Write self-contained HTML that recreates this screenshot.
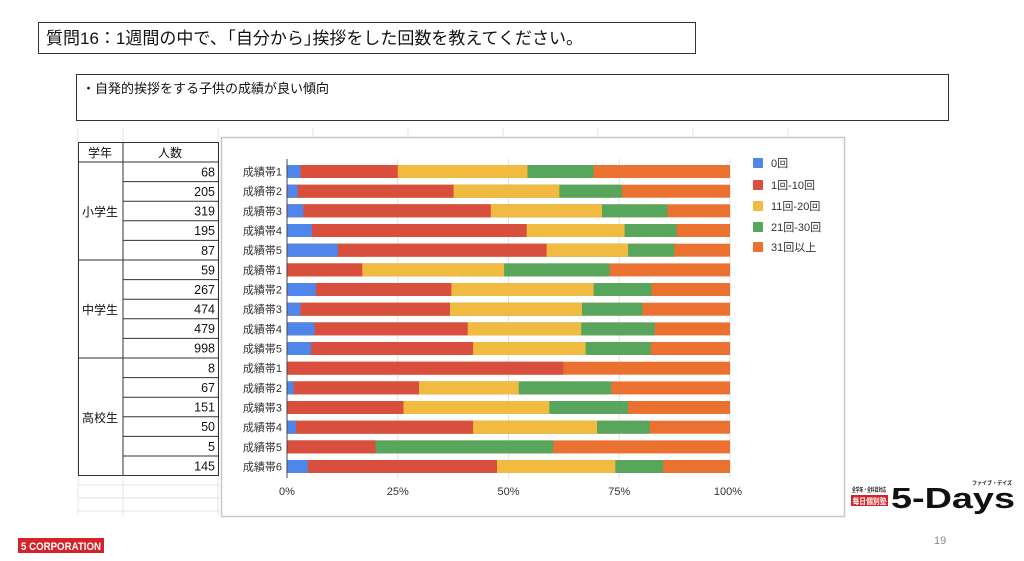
<!DOCTYPE html>
<html><head><meta charset="utf-8"><style>
html,body{margin:0;padding:0;background:#fff;}
svg{display:block;font-family:"Liberation Sans","Noto Sans CJK JP",sans-serif;}
</style></head><body>
<svg width="1024" height="561" viewBox="0 0 1024 561" xmlns="http://www.w3.org/2000/svg">
<rect width="1024" height="561" fill="#fff"/>
<rect x="38.5" y="22.5" width="657" height="31" fill="#fff" stroke="#333" stroke-width="1"/>
<text x="46" y="44" font-size="17" fill="#111">質問16：1週間の中で､「自分から｣挨拶をした回数を教えてください。</text>
<rect x="76.5" y="74.5" width="872" height="46" fill="#fff" stroke="#333" stroke-width="1"/>
<text x="82" y="93" font-size="13" fill="#111">・自発的挨拶をする子供の成績が良い傾向</text>
<g stroke="#e4e4e4" stroke-width="1">
<line x1="78" y1="128" x2="78" y2="515"/><line x1="123" y1="128" x2="123" y2="515"/><line x1="218" y1="128" x2="218" y2="515"/>
<line x1="78" y1="485" x2="220" y2="485"/><line x1="78" y1="498" x2="220" y2="498"/><line x1="78" y1="511" x2="220" y2="511"/>
<line x1="313" y1="128" x2="313" y2="137"/><line x1="408" y1="128" x2="408" y2="137"/><line x1="503" y1="128" x2="503" y2="137"/><line x1="598" y1="128" x2="598" y2="137"/><line x1="693" y1="128" x2="693" y2="137"/><line x1="788" y1="128" x2="788" y2="137"/>
</g>
<g stroke="#333" stroke-width="1" fill="none">
<rect x="78.5" y="142.5" width="140" height="333"/>
<line x1="123" y1="142" x2="123" y2="476"/>
<line x1="78" y1="162" x2="218" y2="162"/>
<line x1="78" y1="260" x2="218" y2="260"/>
<line x1="78" y1="358" x2="218" y2="358"/>
<line x1="123" y1="181.6" x2="218" y2="181.6"/><line x1="123" y1="201.2" x2="218" y2="201.2"/><line x1="123" y1="220.8" x2="218" y2="220.8"/><line x1="123" y1="240.4" x2="218" y2="240.4"/>
<line x1="123" y1="279.6" x2="218" y2="279.6"/><line x1="123" y1="299.2" x2="218" y2="299.2"/><line x1="123" y1="318.8" x2="218" y2="318.8"/><line x1="123" y1="338.4" x2="218" y2="338.4"/>
<line x1="123" y1="377.6" x2="218" y2="377.6"/><line x1="123" y1="397.2" x2="218" y2="397.2"/><line x1="123" y1="416.8" x2="218" y2="416.8"/><line x1="123" y1="436.4" x2="218" y2="436.4"/><line x1="123" y1="456" x2="218" y2="456"/>
</g>
<g font-size="12" fill="#111">
<text x="100" y="157" text-anchor="middle">学年</text>
<text x="170" y="157" text-anchor="middle">人数</text>
<text x="100" y="216" text-anchor="middle">小学生</text>
<text x="100" y="314" text-anchor="middle">中学生</text>
<text x="100" y="422" text-anchor="middle">高校生</text>
</g>
<g font-size="12.5" fill="#111" text-anchor="end">
<text x="215" y="176.5">68</text><text x="215" y="196">205</text><text x="215" y="215.5">319</text><text x="215" y="235">195</text><text x="215" y="255">87</text>
<text x="215" y="274.5">59</text><text x="215" y="294">267</text><text x="215" y="313.5">474</text><text x="215" y="333">479</text><text x="215" y="352.5">998</text>
<text x="215" y="372.5">8</text><text x="215" y="392">67</text><text x="215" y="411.5">151</text><text x="215" y="431">50</text><text x="215" y="451">5</text><text x="215" y="470.5">145</text>
</g>
<rect x="221.5" y="137.5" width="623" height="379" fill="#fff" stroke="#c8c8c8" stroke-width="1.5"/>
<g stroke="#e2e2e2" stroke-width="1">
<line x1="397.75" y1="159" x2="397.75" y2="478"/><line x1="508.5" y1="159" x2="508.5" y2="478"/><line x1="619.25" y1="159" x2="619.25" y2="478"/><line x1="730" y1="159" x2="730" y2="478"/>
</g>
<g id="bars">
<g transform="translate(0,165)"><rect x="287" width="443" height="13" fill="#eb7131"/><rect x="287" width="306.6" height="13" fill="#58a55c"/><rect x="287" width="240.5" height="13" fill="#f0bb40"/><rect x="287" width="110.8" height="13" fill="#d94f3d"/><rect x="287" width="13.3" height="13" fill="#4f86ec"/></g>
<g transform="translate(0,184.7)"><rect x="287" width="443" height="13" fill="#eb7131"/><rect x="287" width="334.9" height="13" fill="#58a55c"/><rect x="287" width="272.4" height="13" fill="#f0bb40"/><rect x="287" width="166.6" height="13" fill="#d94f3d"/><rect x="287" width="10.6" height="13" fill="#4f86ec"/></g>
<g transform="translate(0,204.3)"><rect x="287" width="443" height="13" fill="#eb7131"/><rect x="287" width="380.5" height="13" fill="#58a55c"/><rect x="287" width="315" height="13" fill="#f0bb40"/><rect x="287" width="203.8" height="13" fill="#d94f3d"/><rect x="287" width="16.4" height="13" fill="#4f86ec"/></g>
<g transform="translate(0,224)"><rect x="287" width="443" height="13" fill="#eb7131"/><rect x="287" width="389.8" height="13" fill="#58a55c"/><rect x="287" width="337.6" height="13" fill="#f0bb40"/><rect x="287" width="239.7" height="13" fill="#d94f3d"/><rect x="287" width="24.8" height="13" fill="#4f86ec"/></g>
<g transform="translate(0,243.7)"><rect x="287" width="443" height="13" fill="#eb7131"/><rect x="287" width="387.2" height="13" fill="#58a55c"/><rect x="287" width="341.1" height="13" fill="#f0bb40"/><rect x="287" width="259.6" height="13" fill="#d94f3d"/><rect x="287" width="50.9" height="13" fill="#4f86ec"/></g>
<g transform="translate(0,263.4)"><rect x="287" width="443" height="13" fill="#eb7131"/><rect x="287" width="322.5" height="13" fill="#58a55c"/><rect x="287" width="217.1" height="13" fill="#f0bb40"/><rect x="287" width="75.3" height="13" fill="#d94f3d"/></g>
<g transform="translate(0,283)"><rect x="287" width="443" height="13" fill="#eb7131"/><rect x="287" width="364.6" height="13" fill="#58a55c"/><rect x="287" width="306.6" height="13" fill="#f0bb40"/><rect x="287" width="164.4" height="13" fill="#d94f3d"/><rect x="287" width="28.8" height="13" fill="#4f86ec"/></g>
<g transform="translate(0,302.7)"><rect x="287" width="443" height="13" fill="#eb7131"/><rect x="287" width="355.3" height="13" fill="#58a55c"/><rect x="287" width="295" height="13" fill="#f0bb40"/><rect x="287" width="163" height="13" fill="#d94f3d"/><rect x="287" width="13.3" height="13" fill="#4f86ec"/></g>
<g transform="translate(0,322.4)"><rect x="287" width="443" height="13" fill="#eb7131"/><rect x="287" width="367.7" height="13" fill="#58a55c"/><rect x="287" width="294.2" height="13" fill="#f0bb40"/><rect x="287" width="180.7" height="13" fill="#d94f3d"/><rect x="287" width="27.5" height="13" fill="#4f86ec"/></g>
<g transform="translate(0,342)"><rect x="287" width="443" height="13" fill="#eb7131"/><rect x="287" width="363.7" height="13" fill="#58a55c"/><rect x="287" width="298.6" height="13" fill="#f0bb40"/><rect x="287" width="186.1" height="13" fill="#d94f3d"/><rect x="287" width="23.9" height="13" fill="#4f86ec"/></g>
<g transform="translate(0,361.7)"><rect x="287" width="443" height="13" fill="#eb7131"/><rect x="287" width="276.4" height="13" fill="#d94f3d"/></g>
<g transform="translate(0,381.4)"><rect x="287" width="443" height="13" fill="#eb7131"/><rect x="287" width="324.3" height="13" fill="#58a55c"/><rect x="287" width="231.7" height="13" fill="#f0bb40"/><rect x="287" width="132" height="13" fill="#d94f3d"/><rect x="287" width="6.6" height="13" fill="#4f86ec"/></g>
<g transform="translate(0,401)"><rect x="287" width="443" height="13" fill="#eb7131"/><rect x="287" width="341.1" height="13" fill="#58a55c"/><rect x="287" width="262.3" height="13" fill="#f0bb40"/><rect x="287" width="116.5" height="13" fill="#d94f3d"/></g>
<g transform="translate(0,420.7)"><rect x="287" width="443" height="13" fill="#eb7131"/><rect x="287" width="362.8" height="13" fill="#58a55c"/><rect x="287" width="310.1" height="13" fill="#f0bb40"/><rect x="287" width="186.1" height="13" fill="#d94f3d"/><rect x="287" width="8.9" height="13" fill="#4f86ec"/></g>
<g transform="translate(0,440.4)"><rect x="287" width="443" height="13" fill="#eb7131"/><rect x="287" width="266.2" height="13" fill="#58a55c"/><rect x="287" width="88.6" height="13" fill="#d94f3d"/></g>
<g transform="translate(0,460)"><rect x="287" width="443" height="13" fill="#eb7131"/><rect x="287" width="376.1" height="13" fill="#58a55c"/><rect x="287" width="328.3" height="13" fill="#f0bb40"/><rect x="287" width="210" height="13" fill="#d94f3d"/><rect x="287" width="20.8" height="13" fill="#4f86ec"/></g>
</g>
<line x1="287" y1="159" x2="287" y2="478" stroke="#444" stroke-width="1"/>
<g font-size="11" fill="#333" text-anchor="end">
<text x="282" y="175.5">成績帯1</text><text x="282" y="195.2">成績帯2</text><text x="282" y="214.8">成績帯3</text><text x="282" y="234.5">成績帯4</text><text x="282" y="254.2">成績帯5</text>
<text x="282" y="273.9">成績帯1</text><text x="282" y="293.5">成績帯2</text><text x="282" y="313.2">成績帯3</text><text x="282" y="332.9">成績帯4</text><text x="282" y="352.5">成績帯5</text>
<text x="282" y="372.2">成績帯1</text><text x="282" y="391.9">成績帯2</text><text x="282" y="411.5">成績帯3</text><text x="282" y="431.2">成績帯4</text><text x="282" y="450.9">成績帯5</text><text x="282" y="470.5">成績帯6</text>
</g>
<g font-size="11" fill="#333" text-anchor="middle">
<text x="287" y="495">0%</text><text x="397.75" y="495">25%</text><text x="508.5" y="495">50%</text><text x="619.25" y="495">75%</text><text x="728" y="495">100%</text>
</g>
<g font-size="11" fill="#333">
<rect x="753" y="158" width="10" height="10" rx="1" fill="#4f86ec"/><text x="771" y="167">0回</text>
<rect x="753" y="180" width="10" height="10" rx="1" fill="#d94f3d"/><text x="771" y="189">1回-10回</text>
<rect x="753" y="201" width="10" height="10" rx="1" fill="#f0bb40"/><text x="771" y="210">11回-20回</text>
<rect x="753" y="222" width="10" height="10" rx="1" fill="#58a55c"/><text x="771" y="231">21回-30回</text>
<rect x="753" y="242" width="10" height="10" rx="1" fill="#eb7131"/><text x="771" y="251">31回以上</text>
</g>
<text x="852" y="492" font-size="6" font-weight="bold" fill="#222" textLength="34" lengthAdjust="spacingAndGlyphs">全学年・全科目対応</text>
<rect x="851" y="495" width="37" height="11" fill="#d6232a"/>
<text x="852.5" y="504" font-size="8" font-weight="bold" fill="#fff" textLength="34" lengthAdjust="spacingAndGlyphs">毎日個別塾</text>
<text x="891" y="508" font-size="29" font-weight="bold" fill="#111" textLength="124" lengthAdjust="spacingAndGlyphs">5-Days</text>
<text x="972" y="485" font-size="5.5" font-weight="bold" fill="#222" textLength="40" lengthAdjust="spacingAndGlyphs">ファイブ・デイズ</text>
<text x="934" y="544" font-size="11" fill="#888">19</text>
<rect x="18" y="538" width="86" height="15" fill="#d6232a"/>
<text x="21" y="550" font-size="11" font-weight="bold" fill="#fff" textLength="80" lengthAdjust="spacingAndGlyphs">5 CORPORATION</text>
</svg>
</body></html>
